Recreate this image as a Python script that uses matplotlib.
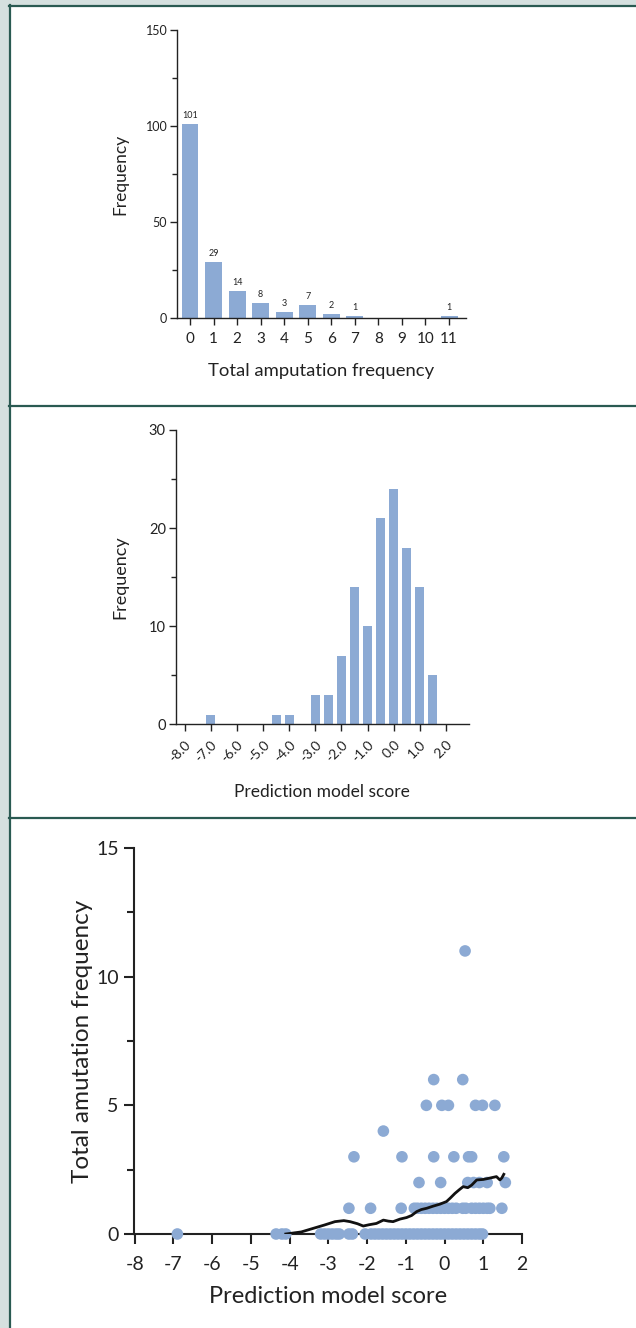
import numpy as np
import matplotlib
matplotlib.use("Agg")
import matplotlib.pyplot as plt
from matplotlib.patches import Rectangle
from matplotlib.lines import Line2D

plt.rcParams['font.family'] = ['Lato', 'DejaVu Sans']
plt.rcParams['axes.unicode_minus'] = False

# panel 1: histogram of total amputation frequency
amp_cats = list(range(12))
amp_counts = [101, 29, 14, 8, 3, 7, 2, 1, 0, 0, 0, 1]

# panel 2: histogram of prediction model score (bin centres, step 0.5)
score_bins = [-7.0, -4.5, -4.0, -3.0, -2.5, -2.0, -1.5, -1.0, -0.5, 0.0, 0.5, 1.0, 1.5]
score_counts = [1, 1, 1, 3, 3, 7, 14, 10, 21, 24, 18, 14, 5]
score_ticks = [-8.0, -7.0, -6.0, -5.0, -4.0, -3.0, -2.0, -1.0, 0.0, 1.0, 2.0]

# panel 3: scatter of score vs amputations, rows by y value
row0 = [-6.9, -4.35, -4.2, -4.1, -3.2, -3.1, -3.0, -2.9, -2.8, -2.72, -2.47, -2.38,
        -2.05, -1.9, -1.8, -1.7, -1.6, -1.5, -1.4, -1.3, -1.2, -1.1, -1.0, -0.9,
        -0.8, -0.7, -0.6, -0.5, -0.4, -0.3, -0.2, -0.1, 0.0, 0.1, 0.2, 0.3, 0.4,
        0.5, 0.6, 0.7, 0.8, 0.9, 0.98]
row1 = [-2.47, -1.91, -1.12, -0.78, -0.7, -0.6, -0.5, -0.4, -0.3, -0.2, -0.1, 0.0,
        0.1, 0.2, 0.3, 0.47, 0.55, 0.7, 0.8, 0.9, 1.0, 1.1, 1.17, 1.48]
row2 = [-0.66, -0.1, 0.6, 0.75, 0.9, 1.1, 1.57]
row3 = [-2.34, -1.1, -0.28, 0.24, 0.62, 0.7, 1.53]
row4 = [-1.58]
row5 = [-0.47, -0.07, 0.1, 0.8, 0.98, 1.3]
row6 = [-0.28, 0.47]
row11 = [0.53]

# smoothed trend line
trend_x = [-4.1, -3.7, -3.39, -3.1, -2.83, -2.6, -2.44, -2.25, -2.1, -1.95, -1.76, -1.58,
           -1.45, -1.33, -1.15, -0.98, -0.85, -0.72, -0.6, -0.46, -0.3, -0.12, 0.05,
           0.15, 0.27, 0.38, 0.48, 0.6, 0.7, 0.83, 1.0, 1.13, 1.25, 1.34, 1.43, 1.48, 1.53]
trend_y = [0.0, 0.08, 0.22, 0.35, 0.48, 0.52, 0.48, 0.4, 0.31, 0.36, 0.41, 0.54,
           0.5, 0.48, 0.58, 0.64, 0.72, 0.87, 0.95, 1.0, 1.08, 1.16, 1.26,
           1.4, 1.58, 1.72, 1.84, 1.8, 1.9, 2.1, 2.12, 2.16, 2.2, 2.23, 2.1, 2.18, 2.32]

blue = '#8caad4'
txt = '#222222'
W, H = 636, 1328

fig = plt.figure(figsize=(W / 100, H / 100), dpi=100, facecolor='#d5e0df')

# white panels with dark borders
border = '#2a5a52'
fig.add_artist(Rectangle((10 / W, 0), 1, 1 - 6 / H, transform=fig.transFigure,
                         facecolor='white', edgecolor='none', zorder=0))
for yy in [6, 405.5, 817.5]:
    fig.add_artist(Line2D([9 / W, 1], [1 - yy / H, 1 - yy / H], transform=fig.transFigure,
                          color=border, lw=1.6))
fig.add_artist(Line2D([10 / W, 10 / W], [0, 1 - 5 / H], transform=fig.transFigure,
                      color=border, lw=1.6))


def px_axes(left, right, top, bottom):
    return fig.add_axes([left / W, 1 - bottom / H, (right - left) / W, (bottom - top) / H])


def style(ax, lw):
    ax.spines['top'].set_visible(False)
    ax.spines['right'].set_visible(False)
    ax.spines['left'].set_linewidth(lw)
    ax.spines['bottom'].set_linewidth(lw)
    ax.spines['left'].set_color(txt)
    ax.spines['bottom'].set_color(txt)
    ax.tick_params(which='both', direction='out', color=txt, width=lw, labelcolor=txt)
    ax.tick_params(which='major', length=5)
    ax.tick_params(which='minor', length=3.5)
    ax.set_facecolor('none')


# ---- panel 1
ax1 = px_axes(177, 466, 30, 318)
ax1.bar(amp_cats, amp_counts, width=0.72, color=blue, zorder=2)
for c, v in zip(amp_cats, amp_counts):
    if v > 0:
        ax1.text(c, v + 2, str(v), ha='center', va='bottom', fontsize=6.5, color=txt)
ax1.set_xlim(-0.552, 11.72)
ax1.set_ylim(0, 150)
ax1.set_xticks(amp_cats)
ax1.set_yticks([0, 50, 100, 150])
ax1.set_yticks([25, 75, 125], minor=True)
style(ax1, 1.0)
ax1.tick_params(axis='x', labelsize=11, pad=5)
ax1.tick_params(axis='y', labelsize=9, pad=2)
ax1.set_xlabel('Total amputation frequency', fontsize=13.3, color=txt, labelpad=12)
ax1.set_ylabel('Frequency', fontsize=12.5, color=txt, labelpad=12)

# ---- panel 2
ax2 = px_axes(175.6, 468.6, 430, 724.5)
ax2.bar(score_bins, score_counts, width=0.34, color=blue, zorder=2)
ax2.set_xlim(-8.344, 2.865)
ax2.set_ylim(0, 30)
ax2.set_xticks(score_ticks)
ax2.set_xticklabels(['%.1f' % t for t in score_ticks], rotation=45, ha='right',
                    rotation_mode='anchor')
ax2.set_yticks([0, 10, 20, 30])
ax2.set_yticks([5, 15, 25], minor=True)
style(ax2, 1.0)
ax2.tick_params(axis='x', labelsize=10, pad=5)
ax2.tick_params(axis='y', labelsize=10.5, pad=2)
ax2.set_xlabel('Prediction model score', fontsize=12.5, color=txt, labelpad=14)
ax2.set_ylabel('Frequency', fontsize=13, color=txt, labelpad=15)

# ---- panel 3
ax3 = px_axes(134, 522, 848, 1234)
rows = [(0, row0), (1, row1), (2, row2), (3, row3), (4, row4), (5, row5), (6, row6), (11, row11)]
for yv, xs in rows:
    ax3.scatter(xs, [yv] * len(xs), s=70, color=blue, edgecolors='none', zorder=3,
                clip_on=False)
ax3.plot(trend_x, trend_y, color='#111111', lw=2.0, zorder=4)
ax3.set_xlim(-8.02, 2.0)
ax3.set_ylim(0, 15)
ax3.set_xticks(range(-8, 3))
ax3.set_yticks([0, 5, 10, 15])
ax3.set_yticks([2.5, 7.5, 12.5], minor=True)
style(ax3, 1.5)
ax3.tick_params(which='major', length=7)
ax3.tick_params(which='minor', length=5)
ax3.tick_params(axis='x', labelsize=14, pad=9)
ax3.tick_params(axis='y', labelsize=14, pad=4)
ax3.set_xlabel('Prediction model score', fontsize=17, color=txt, labelpad=9)
ax3.set_ylabel('Total amutation frequency', fontsize=17.5, color=txt, labelpad=2)

fig.savefig('out.png', dpi=100, facecolor=fig.get_facecolor())
